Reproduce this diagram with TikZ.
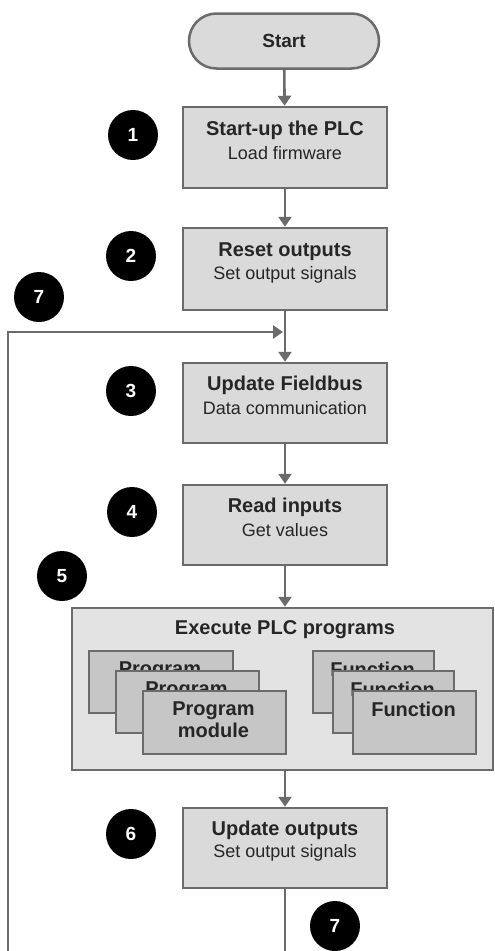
\documentclass[tikz,border=0pt]{standalone}
\usepackage{fontspec}
\setmainfont{Liberation Sans}
\usetikzlibrary{arrows.meta}
\definecolor{edge}{HTML}{6B6B6B}
\definecolor{boxfill}{HTML}{DADADA}
\definecolor{bigfill}{HTML}{E3E3E3}
\definecolor{cardfill}{HTML}{C6C6C6}
\definecolor{txt}{HTML}{262626}
\tikzset{
  box/.style={draw=edge, fill=boxfill, line width=2.5pt, minimum width=204pt, minimum height=80pt, inner sep=0pt},
  ttl/.style={font=\bfseries\fontsize{20}{22}\selectfont, text=txt, inner sep=0pt},
  sub/.style={font=\fontsize{18}{22}\selectfont, text=txt, inner sep=0pt},
  num/.style={circle, fill=black, minimum size=50pt, inner sep=0pt, text=white, font=\bfseries\fontsize{19}{20}\selectfont},
  conn/.style={draw=edge, line width=2.6pt, -{Triangle[length=10pt,width=13pt]}},
  plain/.style={draw=edge, line width=2.6pt},
  card/.style={draw=edge, fill=cardfill, line width=2pt, anchor=north west, inner sep=0pt},
  cardtxt/.style={font=\bfseries\fontsize{20}{22}\selectfont, text=txt, align=center, inner sep=0pt, anchor=north},
}
\begin{document}
\begin{tikzpicture}[x=1pt,y=-1pt]
\useasboundingbox (0,0) rectangle (495,951);
\fill[white] (0,0) rectangle (495,951);

% start
\node[draw=edge, fill=boxfill, line width=2.5pt, minimum width=190pt, minimum height=55pt, rounded corners=27.5pt, inner sep=0pt, font=\bfseries\fontsize{19}{20}\selectfont, text=txt] (start) at (284,41) {Start};

% process boxes
\node[box, minimum height=81pt] (b1) at (285,147.5) {};
\node[ttl] (b1t) at (285,130) {Start-up the PLC};
\node[sub] (b1s) at (285,153) {Load firmware};

\node[box, minimum height=82pt] (b2) at (285,269) {};
\node[ttl] (b2t) at (285,252) {Reset outputs};
\node[sub] (b2s) at (285,275) {Set output signals};

\node[box] (b3) at (285,403) {};
\node[ttl] (b3t) at (285,385) {Update Fieldbus};
\node[sub] (b3s) at (285,408) {Data communication};

\node[box] (b4) at (285,525) {};
\node[ttl] (b4t) at (285,507) {Read inputs};
\node[sub] (b4s) at (285,530) {Get values};

% execute container
\node[draw=edge, fill=bigfill, line width=2.5pt, minimum width=421pt, minimum height=162pt, inner sep=0pt] (big) at (282.5,689) {};
\node[ttl] (bigt) at (285,630) {Execute PLC programs};

% program cards
\node[card, minimum width=144pt, minimum height=62pt] (pa) at (88,650) {};
\node[cardtxt] (pat) at (160,662) {Program};
\node[card, minimum width=143pt, minimum height=62pt] (pb) at (115,670) {};
\node[cardtxt] (pbt) at (186.5,682) {Program};
\node[card, minimum width=143pt, minimum height=63pt] (pc) at (142,690) {};
\node[cardtxt] (pct) at (213.5,702) {Program\\module};

% function cards
\node[card, minimum width=121pt, minimum height=62pt] (fa) at (312,650) {};
\node[cardtxt] (fat) at (372.5,662) {Function};
\node[card, minimum width=121pt, minimum height=62pt] (fb) at (332,670) {};
\node[cardtxt] (fbt) at (392.5,682) {Function};
\node[card, minimum width=123pt, minimum height=63pt] (fc) at (352,690) {};
\node[cardtxt] (fct) at (413.5,702) {Function};

\node[box] (b6) at (285,848) {};
\node[ttl] (b6t) at (285,830) {Update outputs};
\node[sub] (b6s) at (285,853) {Set output signals};

% numbers
\node[num] (n1) at (133,135) {1};
\node[num] (n2) at (131,256) {2};
\node[num] (n7a) at (39,297) {7};
\node[num] (n3) at (131,391) {3};
\node[num] (n4) at (132,512) {4};
\node[num] (n5) at (62,576) {5};
\node[num] (n6) at (131,834) {6};
\node[num] (n7b) at (335,926) {7};

% connectors
\coordinate (j) at (285,332);
\coordinate (e1) at (285,951);
\coordinate (e2) at (8,951);
\draw[conn] (start) -- (b1);
\draw[conn] (b1) -- (b2);
\draw[conn] (b2) -- (b3);
\draw[conn] (b3) -- (b4);
\draw[conn] (b4.south) -- (b4.south |- big.north);
\draw[conn] (big.south -| b6.north) -- (b6.north);
\draw[plain] (b6.south) -- (e1);
\draw[conn, shorten >=2pt] (e2) |- (j);
\end{tikzpicture}
\end{document}
